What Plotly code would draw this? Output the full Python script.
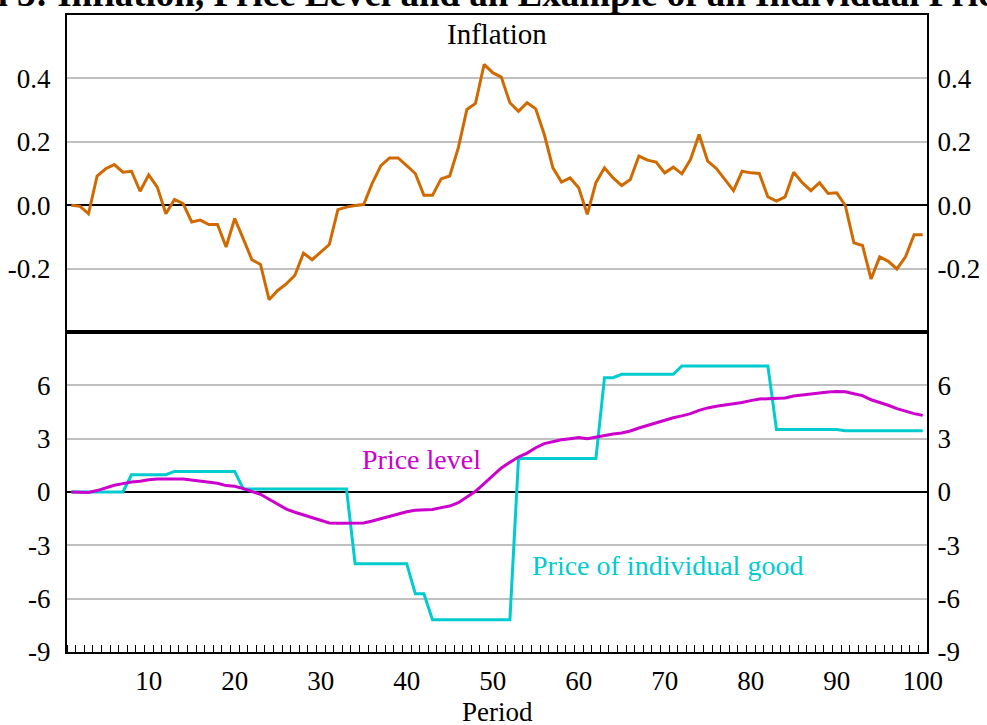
import plotly.graph_objects as go

periods = list(range(1, 101))

inflation = [0.0, -0.003, -0.027, 0.092, 0.115, 0.128, 0.104, 0.107, 0.044, 0.096,
             0.057, -0.027, 0.018, 0.005, -0.053, -0.047, -0.061, -0.061, -0.132, -0.042,
             -0.106, -0.172, -0.187, -0.298, -0.269, -0.248, -0.221, -0.151, -0.172, -0.147,
             -0.124, -0.014, -0.006, -0.001, 0.002, 0.07, 0.125, 0.149, 0.149, 0.125,
             0.10, 0.031, 0.031, 0.083, 0.092, 0.181, 0.302, 0.321, 0.444, 0.418,
             0.404, 0.323, 0.296, 0.323, 0.304, 0.223, 0.118, 0.073, 0.086, 0.055,
             -0.029, 0.071, 0.118, 0.086, 0.062, 0.081, 0.155, 0.142, 0.136, 0.102,
             0.12, 0.099, 0.144, 0.223, 0.139, 0.116, 0.081, 0.046, 0.107, 0.102,
             0.10, 0.026, 0.013, 0.026, 0.104, 0.071, 0.046, 0.071, 0.037, 0.039,
             -0.001, -0.119, -0.127, -0.233, -0.163, -0.177, -0.201, -0.163, -0.093, -0.093]

price_level = [0.0, 0.0, -0.03, 0.08, 0.24, 0.38, 0.47, 0.56, 0.60, 0.69,
               0.73, 0.71, 0.73, 0.73, 0.68, 0.62, 0.56, 0.49, 0.36, 0.32,
               0.19, 0.04, -0.13, -0.41, -0.69, -0.96, -1.14, -1.29, -1.44, -1.59,
               -1.74, -1.76, -1.76, -1.76, -1.74, -1.63, -1.50, -1.35, -1.22, -1.11,
               -1.03, -0.99, -0.98, -0.88, -0.79, -0.60, -0.28, 0.04, 0.47, 0.90,
               1.35, 1.67, 1.97, 2.19, 2.49, 2.72, 2.85, 2.94, 3.00, 3.06,
               3.00, 3.09, 3.19, 3.26, 3.32, 3.43, 3.60, 3.75, 3.90, 4.07,
               4.18, 4.28, 4.41, 4.59, 4.73, 4.82, 4.89, 4.93, 5.04, 5.14,
               5.23, 5.25, 5.25, 5.29, 5.40, 5.46, 5.51, 5.59, 5.63, 5.66,
               5.64, 5.53, 5.42, 5.19, 5.04, 4.88, 4.69, 4.54, 4.41, 4.31]

individual_good = [0.0, 0.0, 0.0, 0.0, 0.0, 0.0, 0.0, 0.97, 0.97, 0.97,
                   0.97, 0.97, 1.16, 1.16, 1.16, 1.16, 1.16, 1.16, 1.16, 1.16,
                   0.17, 0.17, 0.17, 0.17, 0.17, 0.17, 0.17, 0.17, 0.17, 0.17,
                   0.17, 0.17, 0.17, -4.03, -4.03, -4.03, -4.03, -4.03, -4.03, -4.03,
                   -5.72, -5.72, -7.18, -7.18, -7.18, -7.18, -7.18, -7.18, -7.18, -7.18,
                   -7.18, -7.18, 1.88, 1.88, 1.88, 1.88, 1.88, 1.88, 1.88, 1.88,
                   1.88, 1.88, 6.43, 6.43, 6.62, 6.62, 6.62, 6.62, 6.62, 6.62,
                   6.62, 7.09, 7.09, 7.09, 7.09, 7.09, 7.09, 7.09, 7.09, 7.09,
                   7.09, 7.09, 3.51, 3.51, 3.51, 3.51, 3.51, 3.51, 3.51, 3.51,
                   3.45, 3.45, 3.45, 3.45, 3.45, 3.45, 3.45, 3.45, 3.45, 3.45]

x_tick_vals = [10, 20, 30, 40, 50, 60, 70, 80, 90, 100]
top_tick_vals = [-0.2, 0.0, 0.2, 0.4]
top_tick_text = ["-0.2", "0.0", "0.2", "0.4"]
bottom_tick_vals = [-9, -6, -3, 0, 3, 6]
bottom_tick_text = ["-9", "-6", "-3", "0", "3", "6"]

ORANGE = "#D06A00"
MAGENTA = "#CC00CC"
CYAN = "#00CCD0"
FONT = "Liberation Serif"
GRID = "#C0C0C0"
SPLIT = 320 / 637

fig = go.Figure()
fig.add_trace(go.Scatter(x=periods, y=inflation, xaxis="x", yaxis="y", mode="lines",
                         line=dict(color=ORANGE, width=3), name="Inflation"))
fig.add_trace(go.Scatter(x=periods, y=inflation, xaxis="x", yaxis="y2", mode="lines",
                         opacity=0, line=dict(color=ORANGE, width=0), hoverinfo="skip"))
fig.add_trace(go.Scatter(x=periods, y=individual_good, xaxis="x2", yaxis="y3", mode="lines",
                         line=dict(color=CYAN, width=3), name="Price of individual good"))
fig.add_trace(go.Scatter(x=periods, y=price_level, xaxis="x2", yaxis="y3", mode="lines",
                         line=dict(color=MAGENTA, width=3), name="Price level"))
fig.add_trace(go.Scatter(x=periods, y=price_level, xaxis="x2", yaxis="y4", mode="lines",
                         opacity=0, line=dict(color=MAGENTA, width=0), hoverinfo="skip"))

tickfont = dict(family=FONT, size=27, color="black")
xcommon = dict(range=[0.5, 100.5], domain=[0, 1], showgrid=False, zeroline=False,
               automargin=False, showline=True, linecolor="black", linewidth=2, mirror=True)
ycommon = dict(showline=True, linecolor="black", linewidth=2, ticks="", automargin=False,
               tickfont=tickfont, zeroline=True, zerolinecolor="black", zerolinewidth=1.5,
               tickmode="array")

fig.update_layout(
    xaxis=dict(anchor="y", showticklabels=False, ticks="", matches="x2", **xcommon),
    xaxis2=dict(anchor="y3", tickmode="array", tickvals=x_tick_vals, ticks="",
                tickfont=tickfont, ticklabelstandoff=4,
                minor=dict(ticks="inside", tickmode="linear", tick0=0.5, dtick=1,
                           ticklen=7, tickcolor="black", tickwidth=1.2, showgrid=False),
                **xcommon),
    yaxis=dict(domain=[SPLIT, 1], anchor="x", range=[-0.4, 0.6], tickvals=top_tick_vals,
               ticktext=top_tick_text, ticklabelstandoff=9, gridcolor=GRID, gridwidth=1.5,
               **ycommon),
    yaxis2=dict(overlaying="y", side="right", anchor="x", range=[-0.4, 0.6],
                tickvals=top_tick_vals, ticktext=top_tick_text, ticklabelstandoff=3,
                showgrid=False, **ycommon),
    yaxis3=dict(domain=[0, SPLIT], anchor="x2", range=[-9, 9], tickvals=bottom_tick_vals,
                ticktext=bottom_tick_text, ticklabelstandoff=9, gridcolor=GRID, gridwidth=1.5,
                **ycommon),
    yaxis4=dict(overlaying="y3", side="right", anchor="x2", range=[-9, 9],
                tickvals=bottom_tick_vals, ticktext=bottom_tick_text, ticklabelstandoff=3,
                showgrid=False, **ycommon),
)

fig.add_annotation(text="Inflation", xref="x domain", yref="y domain", x=0.5, y=0.94,
                   xanchor="center", yanchor="middle", showarrow=False,
                   font=dict(family=FONT, size=29, color="black"))
fig.add_annotation(text="Price level", xref="x2", yref="y3", x=41.7, y=1.84,
                   xanchor="center", yanchor="middle", showarrow=False,
                   font=dict(family=FONT, size=28, color=MAGENTA))
fig.add_annotation(text="Price of individual good", xref="x2", yref="y3", x=70.3, y=-4.15,
                   xanchor="center", yanchor="middle", showarrow=False,
                   font=dict(family=FONT, size=28, color=CYAN))
fig.add_annotation(text="Period", xref="x2 domain", yref="y3 domain", x=0.5, y=0, yshift=-60,
                   xanchor="center", yanchor="middle", showarrow=False,
                   font=dict(family=FONT, size=27, color="black"))
fig.add_annotation(text="<b>Graph 3: Inflation, Price Level and an Example of an Individual Price</b>",
                   xref="paper", yref="paper", x=-0.193, y=1.0, yshift=-1,
                   xanchor="left", yanchor="bottom", showarrow=False,
                   font=dict(family=FONT, size=37, color="black"))

fig.update_layout(width=987, height=725,
                  margin=dict(l=67, r=60, t=15, b=73, autoexpand=False),
                  paper_bgcolor="white", plot_bgcolor="white", showlegend=False)

fig.write_html("out.html", config={"displayModeBar": False},
               post_script="document.body.style.margin='0px';document.body.style.overflow='hidden';")
